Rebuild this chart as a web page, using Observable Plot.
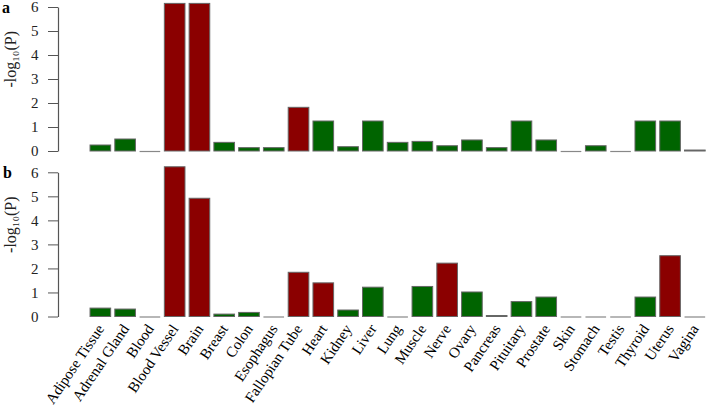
<!DOCTYPE html>
<html>
<head>
<meta charset="utf-8">
<script src="https://cdn.jsdelivr.net/npm/d3@7"></script>
<script src="https://cdn.jsdelivr.net/npm/@observablehq/plot@0.6"></script>
<style>
  html, body { margin: 0; padding: 0; background: #fff; }
  #wrap { position: relative; width: 706px; height: 418px; overflow: hidden; font-family: "Liberation Serif", serif; }
  #wrap svg, #wrap svg text { font-family: "Liberation Serif", serif !important; }
  .panel { position: absolute; left: 0; }
  .letter { position: absolute; font-weight: bold; font-size: 16px; line-height: 16px; color: #000; }
</style>
</head>
<body>
<div id="wrap">
  <div class="panel" id="pa" style="top:0px"></div>
  <div class="panel" id="pb" style="top:160px"></div>
  <div class="letter" style="left:2px;top:0px">a</div>
  <div class="letter" style="left:3px;top:165px">b</div>
</div>
<script>
const tissues = ["Adipose Tissue","Adrenal Gland","Blood","Blood Vessel","Brain","Breast","Colon","Esophagus","Fallopian Tube","Heart","Kidney","Liver","Lung","Muscle","Nerve","Ovary","Pancreas","Pituitary","Prostate","Skin","Stomach","Testis","Thyroid","Uterus","Vagina"];
const valuesA = [0.25,0.5,0,6.15,6.15,0.36,0.14,0.14,1.82,1.25,0.18,1.25,0.36,0.4,0.22,0.46,0.14,1.25,0.46,0,0.22,0,1.25,1.25,0.04];
const valuesB = [0.35,0.31,0,6.23,4.92,0.1,0.17,0,1.84,1.4,0.27,1.22,0,1.25,2.22,1.02,0.04,0.62,0.81,0,0,0,0.81,2.53,0];
const yTicks = [0,1,2,3,4,5,6];
const yLabel = "-log\u2081\u2080(P)";
const threshold = -Math.log10(0.05);

const RED = "#8B0000", GREEN = "#006400";
const FONT = "Liberation Serif";
const WIDTH = 706, MARGIN_LEFT = 58;

function panel(values, opts) {
  const data = tissues.map((t, i) => ({tissue: t, value: values[i]}));
  const W = WIDTH - MARGIN_LEFT;
  const H = opts.height - opts.marginTop - opts.marginBottom;
  const marks = [
    Plot.barY(data, {x: "tissue", y: "value", fill: d => d.value > threshold ? RED : GREEN, stroke: "#666", strokeWidth: 1}),
    Plot.tickY(data.filter(d => d.value === 0), {x: "tissue", y: "value", stroke: "#888", strokeWidth: 1.2}),
    // left axis line only (frame drawn with a dash pattern that shows just its left side)
    Plot.frame({stroke: "#555", strokeWidth: 1.2, strokeDasharray: `0 ${2 * W + H} ${H}`}),
    Plot.axisY({ticks: yTicks, tickFormat: "d", tickSize: 10, tickPadding: 10, label: null, stroke: "#555", fill: "#222", fontSize: 15, fontFamily: FONT}),
    Plot.text([yLabel], {frameAnchor: "left", dx: -48, dy: 8, rotate: -90, fontSize: 16, fill: "#222", fontFamily: FONT})
  ];
  if (opts.showX) {
    marks.push(Plot.axisX({tickRotate: -56, tickSize: 0, tickPadding: 9, label: null, fill: "#000", fontSize: 15, fontFamily: FONT}));
  }
  return Plot.plot({
    width: WIDTH,
    height: opts.height,
    marginLeft: MARGIN_LEFT,
    marginRight: 0,
    marginTop: opts.marginTop,
    marginBottom: opts.marginBottom,
    style: {fontFamily: FONT, fontSize: "15px", background: "transparent", color: "#222"},
    x: {domain: tissues, range: [85.9, 709.3], padding: 0.167, align: 0.5, round: false, axis: null},
    y: {domain: [0, 6], axis: null},
    marks
  });
}

document.getElementById("pa").appendChild(panel(valuesA, {height: 160, marginTop: 7, marginBottom: 9, showX: false}));
document.getElementById("pb").appendChild(panel(valuesB, {height: 258, marginTop: 12.3, marginBottom: 101.5, showX: true}));
</script>
</body>
</html>
